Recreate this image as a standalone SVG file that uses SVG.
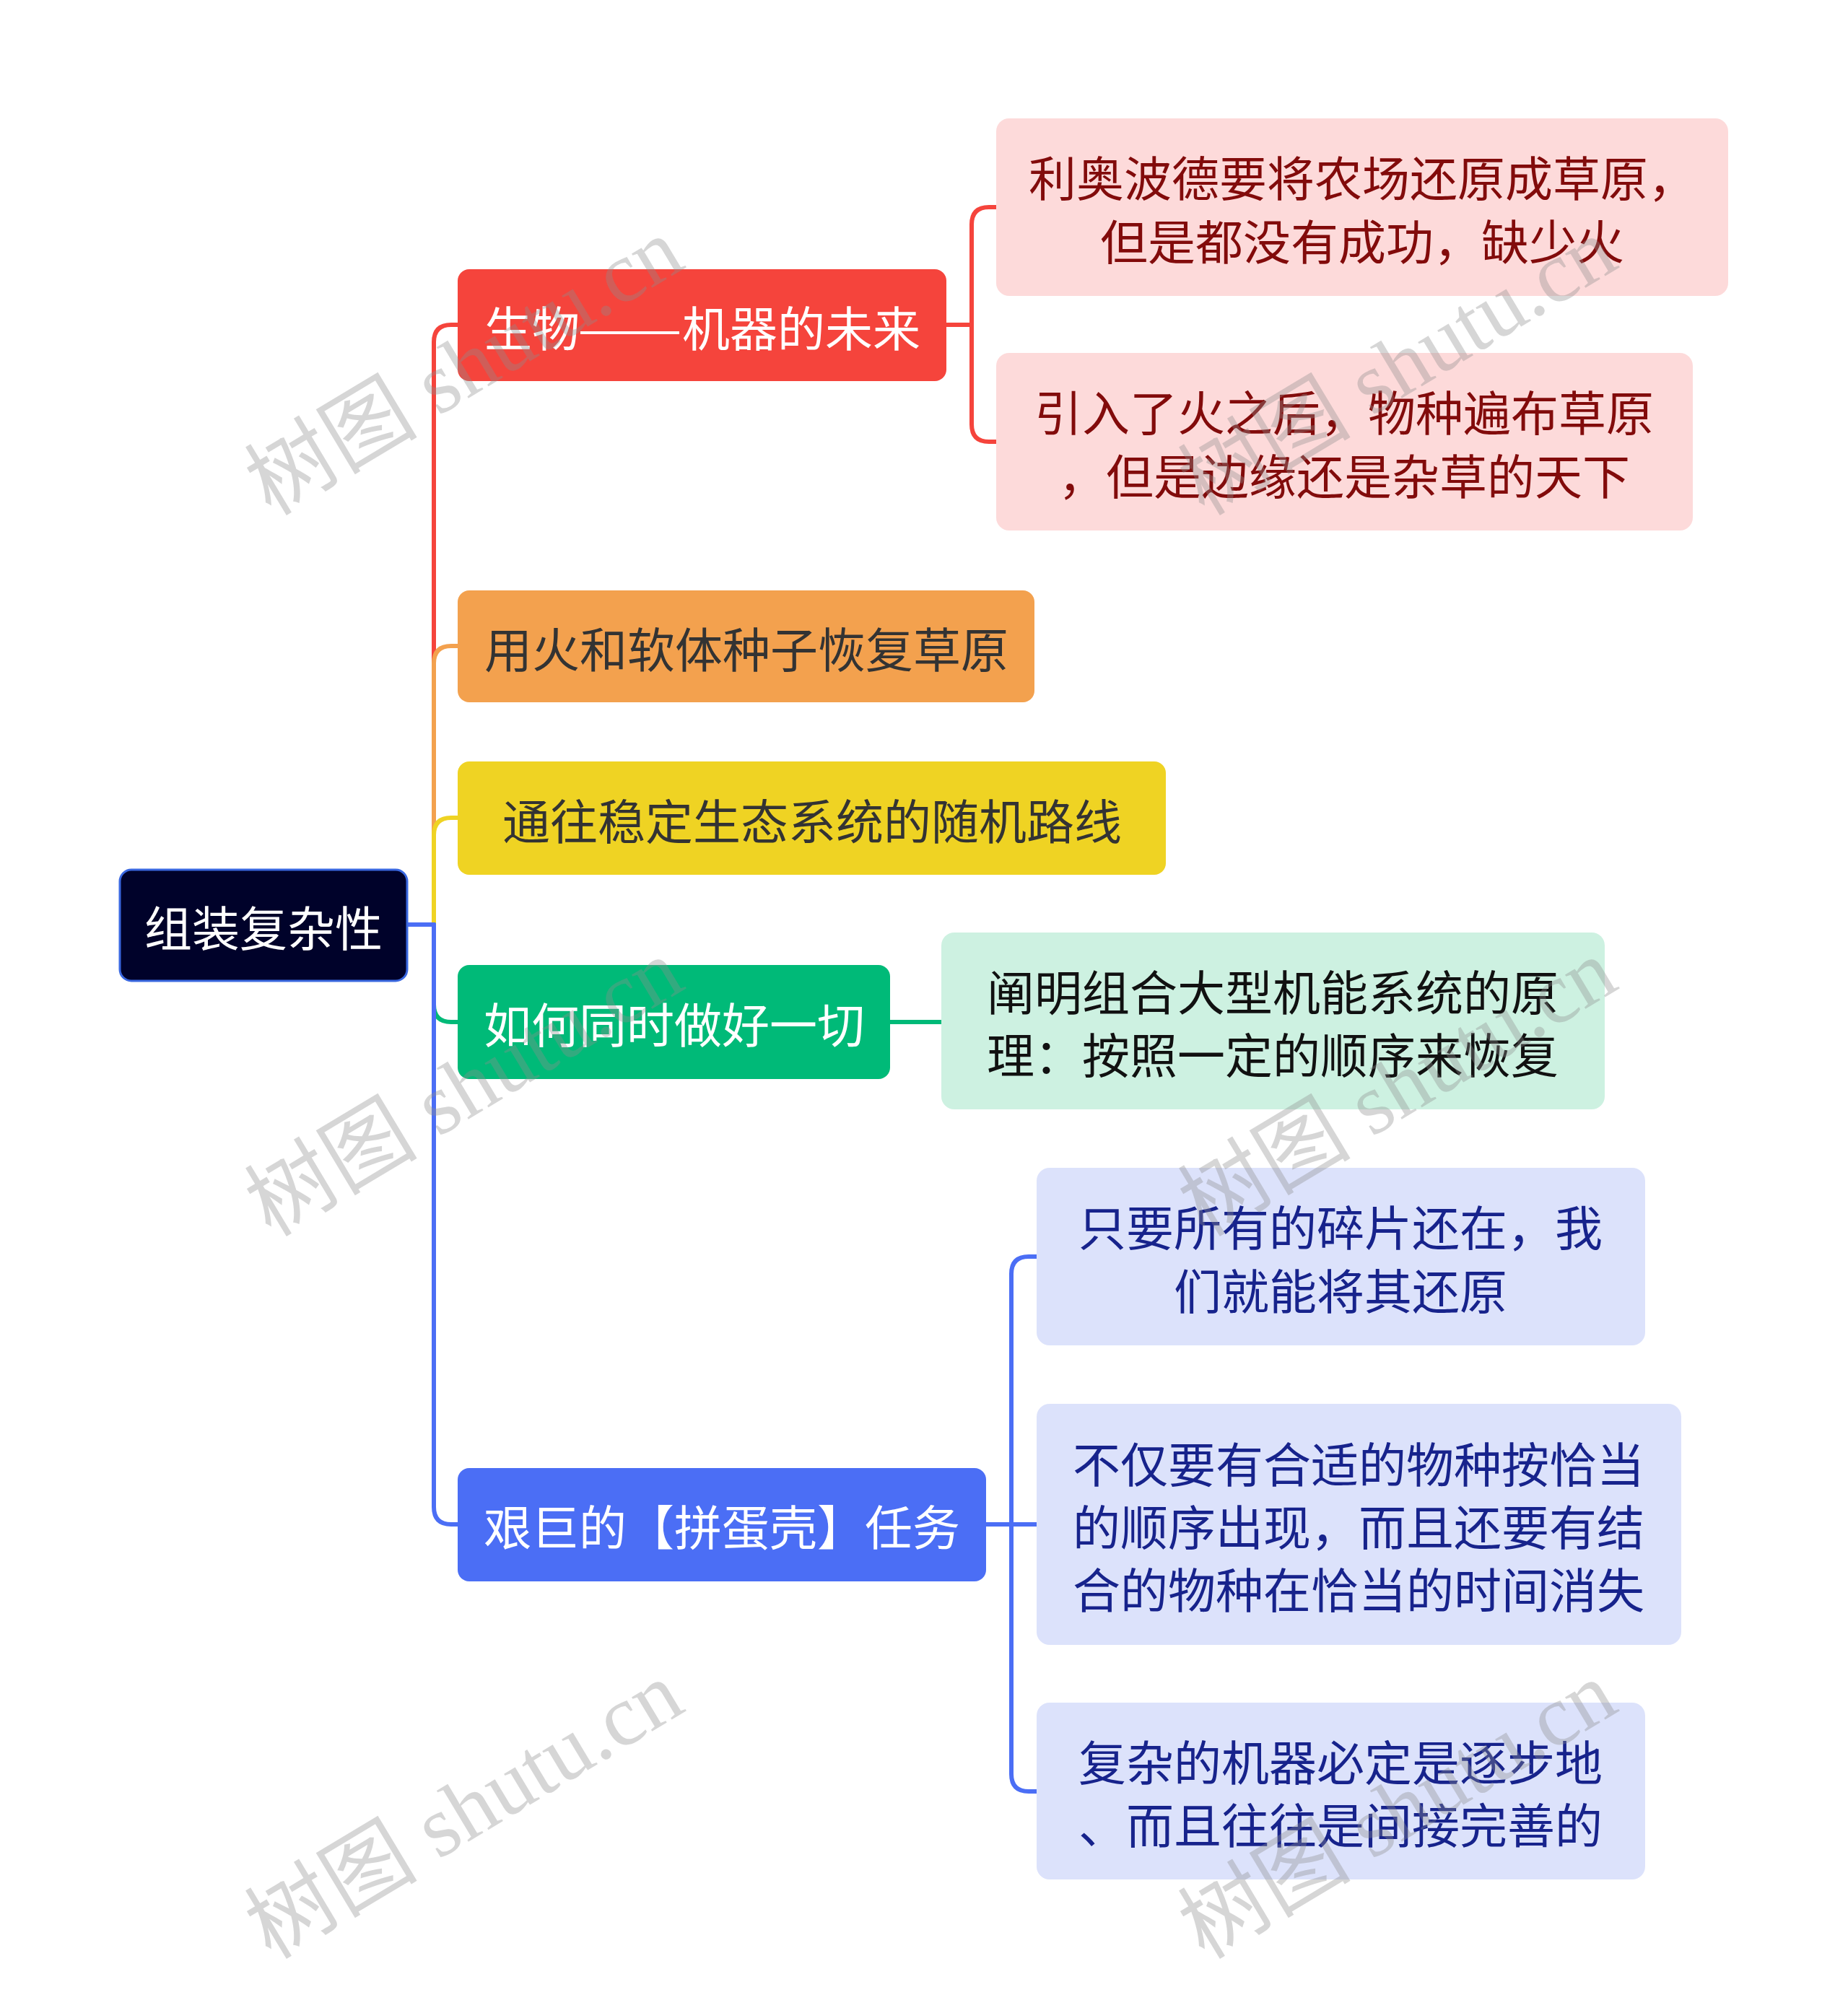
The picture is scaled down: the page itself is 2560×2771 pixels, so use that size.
<svg xmlns="http://www.w3.org/2000/svg" width="2560" height="2771" viewBox="0 0 2560 2771">
<style>
.t{font-family:"Noto Sans CJK SC","Noto Sans",sans-serif;font-size:66px;text-anchor:middle;dominant-baseline:central}
.w{fill:#fff}.d{fill:#333}
.lr{fill:#820b0b}.lg{fill:#111}.lb{fill:#17238c}
.c{fill:none;stroke-width:6;stroke-linecap:round;stroke-linejoin:round}
.wm{font-family:"Liberation Serif","Noto Sans CJK SC",serif;font-size:120px;fill:#8c8c8c;fill-opacity:0.36;text-anchor:middle;dominant-baseline:central}
</style>
<rect width="2560" height="2771" fill="#fff"/>
<g id="connectors">
<path class="c" stroke="#f5443c" d="M601,1281 V474 Q601,450 625,450 H634"/>
<path class="c" stroke="#f3a14e" d="M601,1281 V919 Q601,895 625,895 H634"/>
<path class="c" stroke="#efd323" d="M601,1281 V1157 Q601,1133 625,1133 H634"/>
<path class="c" stroke="#00ba78" d="M601,1281 V1392 Q601,1416 625,1416 H634"/>
<path class="c" stroke="#4b6ef5" d="M601,1281 V2088 Q601,2112 625,2112 H634"/>
<path class="c" stroke="#4b6ef5" d="M564,1281 H601"/>
<path class="c" stroke="#f5443c" d="M1311,450 H1346 M1346,450 V311 Q1346,287 1370,287 H1380 M1346,450 V588 Q1346,612 1370,612 H1380"/>
<path class="c" stroke="#00ba78" d="M1233,1416 H1304"/>
<path class="c" stroke="#4b6ef5" d="M1366,2112 H1436 M1401,2112 V1765 Q1401,1741 1425,1741 H1436 M1401,2112 V2458 Q1401,2482 1425,2482 H1436"/>
</g>
<g id="root">
<rect x="166" y="1205" width="398" height="154" rx="16" fill="#00022a" stroke="#3a68e0" stroke-width="3"/>
<text class="t w" x="365" y="1282">组装复杂性</text>
</g>
<g id="b1">
<rect x="634" y="373" width="677" height="155" rx="16" fill="#f5443c"/>
<text class="t w" x="671" y="451" style="text-anchor:start">生物<tspan x="800" textLength="145" lengthAdjust="spacingAndGlyphs">——</tspan><tspan x="945">机器的未来</tspan></text>
</g>
<g id="b2">
<rect x="634" y="818" width="799" height="155" rx="16" fill="#f3a14e"/>
<text class="t d" x="1034" y="896">用火和软体种子恢复草原</text>
</g>
<g id="b3">
<rect x="634" y="1055" width="981" height="157" rx="16" fill="#efd323"/>
<text class="t d" x="1125" y="1134">通往稳定生态系统的随机路线</text>
</g>
<g id="b4">
<rect x="634" y="1337" width="599" height="158" rx="16" fill="#00ba78"/>
<text class="t w" x="934" y="1416">如何同时做好一切</text>
</g>
<g id="b5">
<rect x="634" y="2034" width="732" height="157" rx="16" fill="#4b6ef5"/>
<text class="t w" x="1000" y="2112">艰巨的【拼蛋壳】任务</text>
</g>
<g id="l1">
<rect x="1380" y="164" width="1014" height="246" rx="18" fill="#fddada"/>
<text class="t lr" x="1887" y="243">利奥波德要将农场还原成草原，</text>
<text class="t lr" x="1887" y="331">但是都没有成功，缺少火</text>
</g>
<g id="l2">
<rect x="1380" y="489" width="965" height="246" rx="18" fill="#fddada"/>
<text class="t lr" x="1862" y="568">引入了火之后，物种遍布草原</text>
<text class="t lr" x="1862" y="656">，但是边缘还是杂草的天下</text>
</g>
<g id="l3">
<rect x="1304" y="1292" width="919" height="245" rx="18" fill="#cdf1e1"/>
<text class="t lg" x="1763" y="1371">阐明组合大型机能系统的原</text>
<text class="t lg" x="1763" y="1458">理：按照一定的顺序来恢复</text>
</g>
<g id="l4">
<rect x="1436" y="1618" width="843" height="246" rx="18" fill="#dce2fb"/>
<text class="t lb" x="1857" y="1697">只要所有的碎片还在，我</text>
<text class="t lb" x="1857" y="1785">们就能将其还原</text>
</g>
<g id="l5">
<rect x="1436" y="1945" width="893" height="334" rx="18" fill="#dce2fb"/>
<text class="t lb" x="1882" y="2025">不仅要有合适的物种按恰当</text>
<text class="t lb" x="1882" y="2112">的顺序出现，而且还要有结</text>
<text class="t lb" x="1882" y="2199">合的物种在恰当的时间消失</text>
</g>
<g id="l6">
<rect x="1436" y="2359" width="843" height="245" rx="18" fill="#dce2fb"/>
<text class="t lb" x="1857" y="2438">复杂的机器必定是逐步地</text>
<text class="t lb" x="1857" y="2525">、而且往往是间接完善的</text>
</g>
<g id="watermarks">
<text class="wm" transform="translate(643,508) rotate(-31)">树图 shutu.cn</text>
<text class="wm" transform="translate(643,1507) rotate(-31)">树图 shutu.cn</text>
<text class="wm" transform="translate(643,2508) rotate(-31)">树图 shutu.cn</text>
<text class="wm" transform="translate(1936,508) rotate(-31)">树图 shutu.cn</text>
<text class="wm" transform="translate(1936,1507) rotate(-31)">树图 shutu.cn</text>
<text class="wm" transform="translate(1936,2508) rotate(-31)">树图 shutu.cn</text>
</g>
</svg>
